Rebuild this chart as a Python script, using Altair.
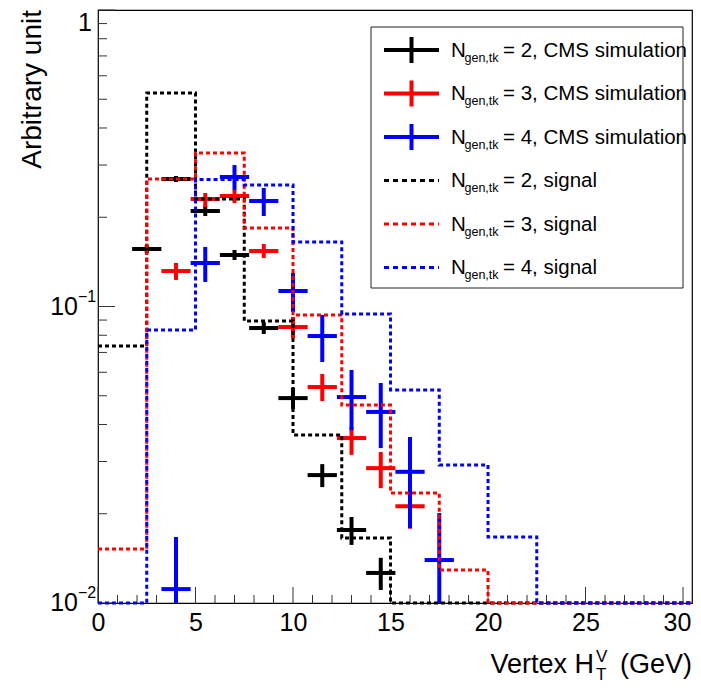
import altair as alt
import pandas as pd

FONT = "Liberation Sans"
W, H = 594, 593
XMAX = 30.46

# ---------------- data ----------------
series = ["2", "3", "4"]
colors = ["#000000", "#ff0000", "#0000ff"]

# signal histograms: bin edges and contents (0.01 = axis floor, empty bins)
sig_edges_2 = [0, 2.5, 5, 7.5, 10, 12.5, 15, XMAX]
sig_vals_2 = [0.0736, 0.525, 0.2305, 0.0894, 0.0369, 0.01657, 0.01]
sig_edges_3 = [0, 2.5, 5, 7.5, 10, 12.5, 15, 17.5, 20, XMAX]
sig_vals_3 = [0.01521, 0.2692, 0.3294, 0.1840, 0.0936, 0.0465, 0.0235, 0.01292, 0.01]
sig_edges_4 = [0, 2.5, 5, 7.5, 10, 12.5, 15, 17.5, 20, 22.5, XMAX]
sig_vals_4 = [0.01, 0.0833, 0.268, 0.2569, 0.1651, 0.0943, 0.0523, 0.0292, 0.0167, 0.01]

# CMS simulation points: bin centres, values, error band
BIN_HALF = 0.75
sim_x_2 = [2.5, 4, 5.5, 7, 8.5, 10, 11.5, 13, 14.5]
sim_y_2 = [0.1563, 0.2692, 0.2099, 0.1492, 0.0846, 0.0491, 0.0270, 0.01763, 0.01263]
sim_lo_2 = [0.1515, 0.2630, 0.2019, 0.1435, 0.0808, 0.0451, 0.0246, 0.0157, 0.01106]
sim_hi_2 = [0.1612, 0.2755, 0.2183, 0.1551, 0.0886, 0.0531, 0.0294, 0.0195, 0.0142]

sim_x_3 = [4, 5.5, 7, 8.5, 10, 11.5, 13, 14.5, 16]
sim_y_3 = [0.1317, 0.2305, 0.2359, 0.1539, 0.0853, 0.0535, 0.0360, 0.0285, 0.0212]
sim_lo_3 = [0.1229, 0.2166, 0.2234, 0.1458, 0.0783, 0.0480, 0.0316, 0.0244, 0.0178]
sim_hi_3 = [0.1402, 0.2414, 0.2471, 0.1625, 0.0922, 0.0592, 0.0392, 0.0323, 0.0246]

sim_x_4 = [4, 5.5, 7, 8.5, 10, 11.5, 13, 14.5, 16, 17.5]
sim_y_4 = [0.01114, 0.1402, 0.2734, 0.2269, 0.1128, 0.0795, 0.0495, 0.0441, 0.0277, 0.01396]
sim_lo_4 = [0.0098, 0.1210, 0.2471, 0.2019, 0.0958, 0.0650, 0.0383, 0.0333, 0.0179, 0.0098]
sim_hi_4 = [0.0167, 0.1588, 0.3000, 0.2510, 0.1297, 0.0936, 0.0611, 0.0552, 0.0363, 0.0201]

# axis ticks / labels
x_major = [0, 5, 10, 15, 20, 25, 30]
x_minor = [v for v in range(0, 31) if v % 5 != 0]
y_major = [0.01, 0.1, 1]
y_minor = [m * d for d in (0.01, 0.1) for m in range(2, 10)]
ylab_vals = [0.1, 0.01]
ylab_exp = ["\u22121", "\u22122"]

legend_n = ["2", "3", "4", "2", "3", "4"]
legend_kind = ["CMS simulation"] * 3 + ["signal"] * 3

# ---------------- scales ----------------
xs = alt.Scale(domain=[0, XMAX], nice=False, zero=False)
ys = alt.Scale(type="log", domain=[0.01, 1], nice=False, clamp=True)
x_axis = alt.Axis(values=x_major, labelFontSize=25, labelFont=FONT, labelColor="black",
                  ticks=False, domain=False, grid=False, labelPadding=7, title="",
                  labelFlush=False, labelOverlap=False,
                  labelOffset={"condition": {"test": "datum.value == 30", "value": -6}, "value": 0})
cscale = alt.Scale(domain=series, range=colors)

layers = []

# inner ticks
def xticks(vals, length):
    return alt.Chart(pd.DataFrame({"t": vals})).mark_rule(color="#333", strokeWidth=1).encode(
        x=alt.X("t:Q", scale=xs, axis=x_axis), y=alt.value(H), y2=alt.value(H - length))

def yticks(vals, length):
    return alt.Chart(pd.DataFrame({"t": vals})).mark_rule(color="#333", strokeWidth=1).encode(
        y=alt.Y("t:Q", scale=ys, axis=None), x=alt.value(0), x2=alt.value(length))

layers += [xticks(x_minor, 8), xticks(x_major, 16), yticks(y_minor, 9), yticks(y_major, 17)]

# CMS simulation crosses
sims = [(sim_x_2, sim_y_2, sim_lo_2, sim_hi_2), (sim_x_3, sim_y_3, sim_lo_3, sim_hi_3),
        (sim_x_4, sim_y_4, sim_lo_4, sim_hi_4)]
for s, c, (sx, sy, slo, shi) in zip(series, colors, sims):
    df = pd.DataFrame({"x": sx, "y": sy, "lo": slo, "hi": shi})
    base = alt.Chart(df).transform_calculate(
        x0=f"datum.x - {BIN_HALF}", x1=f"datum.x + {BIN_HALF}")
    layers.append(base.mark_rule(color=c, strokeWidth=4).encode(
        x=alt.X("x0:Q", scale=xs, axis=x_axis), x2="x1:Q",
        y=alt.Y("y:Q", scale=ys, axis=None)))
    layers.append(base.mark_rule(color=c, strokeWidth=4).encode(
        x=alt.X("x:Q", scale=xs, axis=x_axis),
        y=alt.Y("lo:Q", scale=ys, axis=None), y2="hi:Q"))

# signal histograms (dotted steps)
rows = []
for s, e, v in [("2", sig_edges_2, sig_vals_2), ("3", sig_edges_3, sig_vals_3), ("4", sig_edges_4, sig_vals_4)]:
    vv = list(v) + [v[-1]]
    for xe, ye in zip(e, vv):
        rows.append({"s": s, "edge": xe, "val": ye})
sig_df = pd.DataFrame(rows)
layers.append(alt.Chart(sig_df).mark_line(interpolate="step-after", strokeDash=[4, 3],
                                         strokeWidth=3).encode(
    x=alt.X("edge:Q", scale=xs, axis=x_axis),
    y=alt.Y("val:Q", scale=ys, axis=None),
    color=alt.Color("s:N", scale=cscale, legend=None),
    detail="s:N"))

# y-axis labels
one = pd.DataFrame({"v": [1]})
layers.append(alt.Chart(one).mark_text(font=FONT, fontSize=25, align="right", baseline="top",
                                       dy=1, color="black").encode(
    y=alt.Y("v:Q", scale=ys, axis=None), x=alt.value(-6), text=alt.value("1")))
ylab_df = pd.DataFrame({"v": ylab_vals, "e": ylab_exp})
layers.append(alt.Chart(ylab_df).mark_text(font=FONT, fontSize=25, align="right", baseline="middle",
                                           color="black").encode(
    y=alt.Y("v:Q", scale=ys, axis=None), x=alt.value(-20), text=alt.value("10")))
layers.append(alt.Chart(ylab_df).mark_text(font=FONT, fontSize=16, align="left", baseline="middle",
                                           dy=-10, color="black").encode(
    y=alt.Y("v:Q", scale=ys, axis=None), x=alt.value(-20), text="e:N"))

# axis titles
dummy = pd.DataFrame({"k": [0]})
def txt(s, x, y, size, align="left", angle=0, baseline="alphabetic"):
    kw = dict(font=FONT, fontSize=size, align=align, baseline=baseline, color="black")
    if angle:
        kw["angle"] = angle
    return alt.Chart(dummy).mark_text(**kw).encode(
        x=alt.value(x), y=alt.value(y), text=alt.value(s))

layers.append(txt("Arbitrary unit", -65, 0, 28, align="right", angle=270, baseline="middle"))
layers.append(txt("(GeV)", W, 663, 27, align="right"))
layers.append(txt("Vertex H", 496, 663, 27, align="right"))
layers.append(txt("V", 498, 652, 17))
layers.append(txt("T", 498, 670, 17))

# legend
layers.append(alt.Chart(dummy).mark_rect(fill="white", stroke="#222", strokeWidth=1).encode(
    x=alt.value(273), x2=alt.value(585), y=alt.value(17), y2=alt.value(278)))
for i, (n, kind) in enumerate(zip(legend_n, legend_kind)):
    c = colors[i % 3]
    ys0 = 40 + 43.5 * i
    tb = 46.7 + 43.5 * i
    if i < 3:
        layers.append(alt.Chart(dummy).mark_rule(color=c, strokeWidth=4).encode(
            x=alt.value(286), x2=alt.value(341), y=alt.value(ys0)))
        layers.append(alt.Chart(dummy).mark_rule(color=c, strokeWidth=4).encode(
            x=alt.value(313.5), y=alt.value(ys0 - 13), y2=alt.value(ys0 + 13)))
    else:
        layers.append(alt.Chart(dummy).mark_rule(color=c, strokeWidth=3, strokeDash=[5, 4]).encode(
            x=alt.value(286), x2=alt.value(341), y=alt.value(ys0)))
    layers.append(txt("N", 353, tb, 20.5))
    layers.append(txt("gen,tk", 366.5, tb + 5, 12.5))
    layers.append(txt(f"= {n}, {kind}", 405, tb, 20.5))

chart = alt.layer(*layers).properties(
    width=W, height=H,
    autosize=alt.AutoSizeParams(type="none"),
    padding={"left": 90, "top": 2, "right": 1, "bottom": 80},
    background="white",
).configure_view(stroke="#000", strokeWidth=1.2)

chart.save("out.html", embed_options={"renderer": "svg", "actions": False})
